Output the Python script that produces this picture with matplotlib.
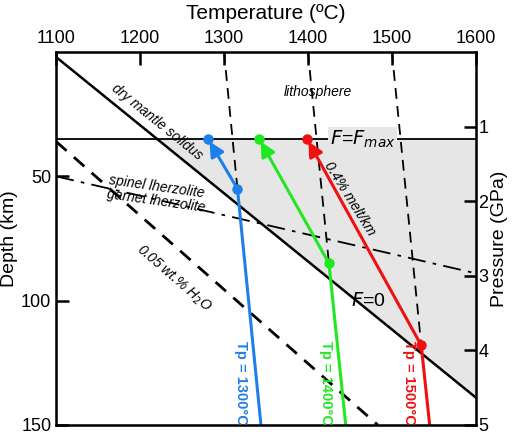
import matplotlib
matplotlib.use("Agg")
import matplotlib.pyplot as plt
import numpy as np

plt.rcParams['font.family'] = ['Liberation Sans', 'DejaVu Sans']

solidus_T = [1100, 1600]; solidus_d = [2, 139]
fmax_d = 35
h2o_T = [1100, 1483]; h2o_d = [36, 150]
sg_T = [1100, 1600]; sg_d = [50, 89]
lith_T = [[1300, 1316], [1400, 1425], [1500, 1535]]
lith_d = [[0, 55], [0, 85], [0, 118]]
tp_names = ['Tp = 1300°C', 'Tp = 1400°C', 'Tp = 1500°C']
tp_colors = ['#1f7fe8', '#22e822', '#f01010']
tp_bottom_T = [1344, 1445, 1545]
tp_dot_T = [1316, 1425, 1535]; tp_dot_d = [55, 85, 118]
tp_top_T = [1281, 1342, 1399]

fig = plt.figure(figsize=(5.2, 4.38), dpi=100)
ax = fig.add_axes([0.108, 0.03, 0.807, 0.851])
ax.set_xlim(1100, 1600); ax.set_ylim(150, 0)

def sol_T(d):
    return np.interp(d, solidus_d, solidus_T)
dd = np.linspace(fmax_d, 139, 50)
ax.fill_betweenx(dd, sol_T(dd), 1600, color='#e6e6e6', zorder=0)
ax.plot(solidus_T, solidus_d, 'k-', lw=1.8)
ax.plot([1100, 1600], [fmax_d, fmax_d], 'k-', lw=1.3)
ax.plot(h2o_T, h2o_d, 'k', ls=(0, (5, 3.5)), lw=2)
ax.plot(sg_T, sg_d, 'k', ls=(0, (10, 4, 2, 4)), lw=1.3)
for T, d in zip(lith_T, lith_d):
    ax.plot(T, d, 'k', ls=(0, (6, 4)), lw=1.3)
for i in range(3):
    c = tp_colors[i]
    ax.plot([tp_bottom_T[i], tp_dot_T[i]], [150, tp_dot_d[i]], color=c, lw=2.2)
    ax.annotate('', xy=(tp_top_T[i], fmax_d), xytext=(tp_dot_T[i], tp_dot_d[i]),
                arrowprops=dict(arrowstyle='-|>', color=c, lw=2.2, mutation_scale=22))
    ax.plot([tp_dot_T[i], tp_top_T[i]], [tp_dot_d[i], fmax_d], 'o', color=c, ms=6.5)
    ax.text(tp_bottom_T[i] - 24, 133, tp_names[i], color=c, rotation=-90,
            ha='center', va='center', fontsize=10.5, fontweight='semibold')

it = dict(style='italic', fontsize=10, ha='center', va='center')
ax.text(1412, 16, 'lithosphere', **it)
ax.text(1220, 28, 'dry mantle solidus', rotation=-39, **it)
ax.text(1220, 54, 'spinel lherzolite', rotation=-8, **it)
ax.text(1219, 60, 'garnet lherzolite', rotation=-8, **it)
ax.text(1240, 91, '0.05 wt.% H$_2$O', rotation=-41, **it)
ax.text(1450, 59, '0.4% melt/km', rotation=-58, **it)
ax.text(1465, 35, r'$F$=$F_{max}$', fontsize=14, ha='center', va='center',
        bbox=dict(fc='#e6e6e6', ec='none', pad=1))
ax.text(1472, 100, r'$F$=0', fontsize=14, ha='center', va='center')

ax.xaxis.tick_top(); ax.xaxis.set_label_position('top')
ax.set_xticks([1100, 1200, 1300, 1400, 1500, 1600])
ax.set_yticks([50, 100, 150])
ax.tick_params(direction='in', length=9, width=1.8, labelsize=13)
ax.set_xlabel('Temperature (ºC)', fontsize=15, labelpad=8)
ax.set_ylabel('Depth (km)', fontsize=14, labelpad=2)
for s in ax.spines.values():
    s.set_linewidth(1.8)

ax2 = ax.twinx()
ax2.set_ylim(150 / 30.3, 0)
ax2.set_yticks([1, 2, 3, 4, 5])
ax2.tick_params(direction='in', length=9, width=1.8, labelsize=13, pad=2)
ax2.set_ylabel('Pressure (GPa)', fontsize=14, labelpad=2)
fig.savefig('out.png', dpi=100)
